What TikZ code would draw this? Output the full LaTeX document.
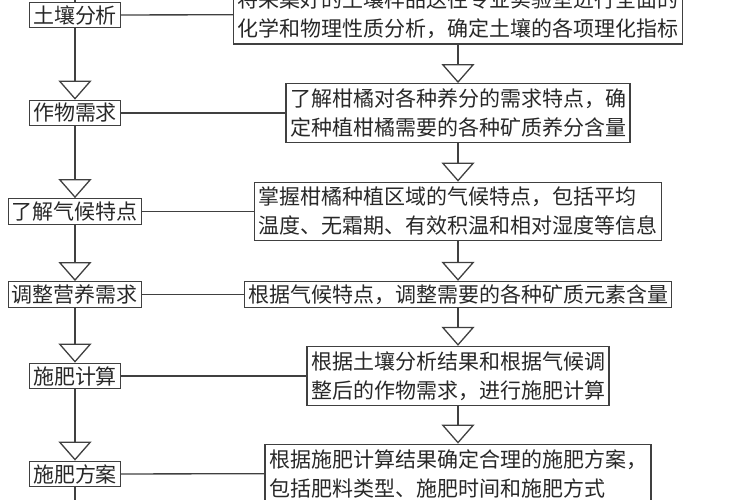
\documentclass[tikz,border=0pt]{standalone}
\usepackage{fontspec}
\usepackage{tikz}
\usetikzlibrary{arrows.meta}
\newfontfamily\cjkfont{Noto Sans CJK SC}
\definecolor{linegray}{RGB}{64, 64, 64}
\definecolor{textgray}{RGB}{40, 40, 40}

\begin{document}
\begin{tikzpicture}[
    x=1pt, y=-1pt,
    stage/.style={draw=linegray, line width=1.3pt, text=textgray, inner xsep=3.5pt, inner ysep=3pt, font=\cjkfont\fontsize{21}{29}\selectfont},
    detail/.style={stage, align=left, inner xsep=4pt, inner ysep=5pt},
    flow/.style={draw=linegray, line width=1.3pt, -{Triangle[open, width=33pt, length=19pt]}},
    link/.style={draw=linegray, line width=1.3pt}
]
    \useasboundingbox (0,0) rectangle (750,500);
    \clip (0,0) rectangle (750,500);

    % Nodes - left column
    \node[stage] (soil) at (75,15) {土壤分析};
    \node[stage] (crop) at (75,113) {作物需求};
    \node[stage] (climate) at (75,211.5) {了解气候特点};
    \node[stage] (adjust) at (75,294.5) {调整营养需求};
    \node[stage] (calc) at (75,376) {施肥计算};
    \node[stage] (plan) at (75,474) {施肥方案};

    % Nodes - right column
    \node[detail] (soilnote) at (458,14.5) {将采集好的土壤样品送往专业实验室进行全面的\\化学和物理性质分析，确定土壤的各项理化指标};
    \node[detail] (cropnote) at (458,113) {了解柑橘对各种养分的需求特点，确\\定种植柑橘需要的各种矿质养分含量};
    \node[detail] (climatenote) at (458,211.5) {掌握柑橘种植区域的气候特点，包括平均\\温度、无霜期、有效积温和相对湿度等信息};
    \node[stage] (adjustnote) at (458,294.5) {根据气候特点，调整需要的各种矿质元素含量};
    \node[detail] (calcnote) at (458,376) {根据土壤分析结果和根据气候调\\整后的作物需求，进行施肥计算};
    \node[detail] (plannote) at (458,473.5) {根据施肥计算结果确定合理的施肥方案，\\包括肥料类型、施肥时间和施肥方式};

    % Open ends above and below
    \coordinate (top) at (75,-30);
    \coordinate (bottom) at (75,530);

    % Arrows - left column
    \draw[link] (top) -- (soil);
    \draw[flow] (soil) -- (crop);
    \draw[flow] (crop) -- (climate);
    \draw[flow] (climate) -- (adjust);
    \draw[flow] (adjust) -- (calc);
    \draw[flow] (calc) -- (plan);
    \draw[link] (plan) -- (bottom);

    % Arrows - right column
    \draw[flow] (soilnote) -- (cropnote);
    \draw[flow] (cropnote) -- (climatenote);
    \draw[flow] (climatenote) -- (adjustnote);
    \draw[flow] (adjustnote) -- (calcnote);
    \draw[flow] (calcnote) -- (plannote);

    % Links
    \draw[link] (soil) -- (soilnote);
    \draw[link] (crop) -- (cropnote);
    \draw[link] (climate) -- (climatenote);
    \draw[link] (adjust) -- (adjustnote);
    \draw[link] (calc) -- (calcnote);
    \draw[link] (plan) -- (plannote);
\end{tikzpicture}
\end{document}
